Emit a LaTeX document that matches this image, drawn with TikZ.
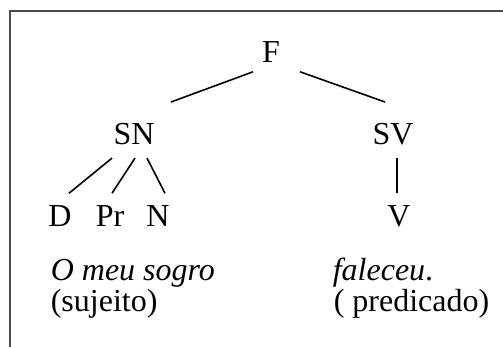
\documentclass[tikz,border=0pt]{standalone}
\usepackage{fontspec}
\setmainfont{Liberation Serif}

\begin{document}
\begin{tikzpicture}[x=1pt, y=-1pt, line width=1.6pt,
    every node/.style={inner sep=0pt, anchor=base, font=\fontsize{32}{32}\selectfont},
    gloss/.style={anchor=base west}]
                \useasboundingbox (0,0) rectangle (503,347);
                % frame (only top and left edges are seen)
                \draw[line width=1.3pt, black!70] (10,347) -- (10,11) -- (503,11);
                % tree
                \node (F) at (271,63) {F};
                \node (SN) at (134,145) {SN};
                \node (SV) at (393,145) {SV};
                \node (D) at (60,227) {D};
                \node (Pr) at (110,227) {Pr};
                \node (N) at (158,227) {N};
                \node (V) at (399,227) {V};
                \draw ([shift={(-18,8)}]F.south) -- ([shift={(37,-21)}]SN.north);
                \draw ([shift={(29,8)}]F.south) -- ([shift={(-8,-21)}]SV.north);
                \draw ([shift={(-22,12)}]SN.south) -- ([shift={(9,-12)}]D.north);
                \draw ([shift={(1,12)}]SN.south) -- ([shift={(2,-12)}]Pr.north);
                \draw ([shift={(13,12)}]SN.south) -- ([shift={(7,-12)}]N.north);
                \draw ([shift={(4,12)}]SV.south) -- ([shift={(-2,-12)}]V.north);
                % sentence
                \node[gloss] (suj) at (50,280) {\itshape O meu sogro};
                \node[gloss] (sujlab) at (50,311) {(sujeito)};
                \node[gloss] (pred) at (332,280) {\itshape faleceu\/\upshape.};
                \node[gloss] (predlab) at (333,311) {( predicado)};
                \end{tikzpicture}
\end{document}
